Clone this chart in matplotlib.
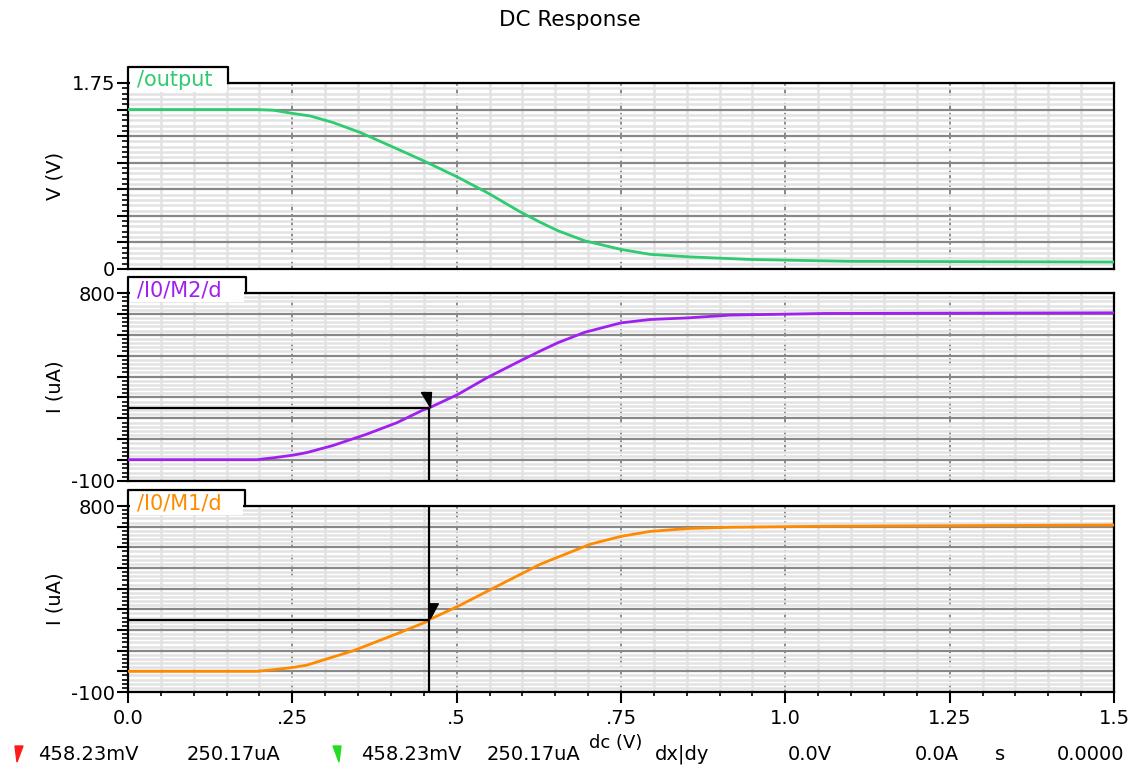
"""DC Response: inverter output voltage and drain currents of M2 / M1 vs dc sweep."""

import matplotlib
matplotlib.use("Agg")
import matplotlib.pyplot as plt
from matplotlib.ticker import MultipleLocator, FuncFormatter
from matplotlib.patches import Rectangle, Polygon
from matplotlib.lines import Line2D

W, H = 1139, 769
plt.rcParams["font.family"] = ["DejaVu Sans"]

dc_out = [0.0, 0.196, 0.221, 0.2515, 0.277, 0.312, 0.353, 0.404, 0.449, 0.5016,
          0.546, 0.571, 0.596, 0.627, 0.654, 0.695, 0.750, 0.794, 0.852, 0.945,
          1.096, 1.5]
v_out = [1.50, 1.50, 1.494, 1.463, 1.44, 1.378, 1.285, 1.145, 1.02, 0.864,
         0.72, 0.63, 0.54, 0.44, 0.36, 0.265, 0.184, 0.138, 0.115, 0.09,
         0.072, 0.066]

dc_m2 = [0.0, 0.196, 0.221, 0.2515, 0.272, 0.312, 0.363, 0.409, 0.449, 0.45823,
         0.5016, 0.546, 0.596, 0.627, 0.654, 0.695, 0.750, 0.794, 0.852, 0.916,
         1.061, 1.5]
i_m2 = [2, 2, 11, 24, 36, 70, 124, 179, 240, 250.17,
        314, 394, 474, 522, 562, 612, 657, 673, 681, 694,
        702, 705]

dc_m1 = [0.0, 0.196, 0.221, 0.2515, 0.272, 0.343, 0.414, 0.454, 0.45823, 0.5016,
         0.561, 0.627, 0.703, 0.750, 0.794, 0.852, 0.916, 1.061, 1.5]
i_m1 = [0, 0, 8, 19, 30, 100, 188, 240, 250.17, 314,
        411, 518, 615, 653, 677, 691, 697, 702, 708]

cursor_x = 0.45823     # V
cursor_y = 250.17      # uA

x_ticks = [0.0, 0.25, 0.5, 0.75, 1.0, 1.25, 1.5]
x_tick_labels = ["0.0", ".25", ".5", ".75", "1.0", "1.25", "1.5"]

status_items = ["458.23mV", "250.17uA", "458.23mV", "250.17uA",
                "0.0V", "0.0A", "s", "0.0000"]

PANELS = [
    {"x": dc_out, "y": v_out, "label": "/output", "color": "#2ecb70",
     "ylabel": "V (V)", "ylim": (0, 1.75), "ylims_txt": ("0", "1.75"),
     "major": 0.25, "minor": 0.05, "px": (83, 269), "tab_w": 100},
    {"x": dc_m2, "y": i_m2, "label": "/I0/M2/d", "color": "#a020f0",
     "ylabel": "I (uA)", "ylim": (-100, 800), "ylims_txt": ("-100", "800"),
     "major": 100, "minor": 20, "px": (293, 481), "tab_w": 118},
    {"x": dc_m1, "y": i_m1, "label": "/I0/M1/d", "color": "#ff8a00",
     "ylabel": "I (uA)", "ylim": (-100, 800), "ylims_txt": ("-100", "800"),
     "major": 100, "minor": 20, "px": (506, 692), "tab_w": 117},
]

LEFT_PX, RIGHT_PX = 128, 1114
FS = 14

fig = plt.figure(figsize=(W / 100, H / 100), dpi=100)
fig.text(0.5, 1 - 20 / H, "DC Response", ha="center", va="center", fontsize=15.5)

axes = []
for i, p in enumerate(PANELS):
    top, bot = p["px"]
    ax = fig.add_axes([LEFT_PX / W, 1 - bot / H, (RIGHT_PX - LEFT_PX) / W, (bot - top) / H])
    axes.append(ax)
    ax.plot(p["x"], p["y"], color=p["color"], linewidth=2.0, zorder=3)
    ax.set_xlim(0, 1.5)
    ax.set_ylim(*p["ylim"])

    # grid
    ax.xaxis.set_major_locator(MultipleLocator(0.25))
    ax.xaxis.set_minor_locator(MultipleLocator(0.05))
    ax.yaxis.set_major_locator(MultipleLocator(p["major"]))
    ax.yaxis.set_minor_locator(MultipleLocator(p["minor"]))
    ax.set_axisbelow(True)
    ax.grid(which="minor", axis="both", color="#e2e2e2", linewidth=1.8)
    ax.grid(which="major", axis="y", color="#888888", linewidth=1.6)
    ax.grid(which="major", axis="x", color="#808080", linewidth=1.3,
            linestyle=(0, (4, 1.5, 1, 1.5)))

    lo, hi = p["ylim"]
    lo_txt, hi_txt = p["ylims_txt"]
    ax.yaxis.set_major_formatter(FuncFormatter(
        lambda v, pos, lo=lo, hi=hi, a=lo_txt, b=hi_txt:
        a if abs(v - lo) < 1e-9 else (b if abs(v - hi) < 1e-9 else "")))
    ax.tick_params(axis="y", which="major", length=8, width=1.5, direction="out",
                   labelsize=FS, pad=1)
    ax.tick_params(axis="y", which="minor", length=4, width=1.2, direction="out")
    if i < 2:
        ax.tick_params(axis="x", which="both", length=0, labelbottom=False)
    else:
        ax.set_xticks(x_ticks)
        ax.set_xticklabels(x_tick_labels)
        ax.tick_params(axis="x", which="major", length=8, width=1.5, labelsize=FS, pad=4)
        ax.tick_params(axis="x", which="minor", length=3, width=1.2)

    for s in ax.spines.values():
        s.set_linewidth(1.6)
        s.set_color("black")

    ax.set_ylabel(p["ylabel"], fontsize=FS)
    ax.yaxis.set_label_coords(-0.064, 0.5)

    # label tab above the panel
    bb = ax.get_position()
    x0, x1 = bb.x0, bb.x0 + p["tab_w"] / W
    y_top = bb.y1
    fig.add_artist(Rectangle((x0 + 1.5 / W, y_top - 9 / H), x1 - x0 - 3 / W, 25 / H,
                             transform=fig.transFigure, facecolor="white",
                             edgecolor="none", zorder=5))
    fig.add_artist(Line2D([x0, x0, x1, x1], [y_top, y_top + 16 / H, y_top + 16 / H, y_top],
                          transform=fig.transFigure, color="black", linewidth=1.6, zorder=6))
    fig.text(x0 + 9 / W, y_top + 3 / H, p["label"], color=p["color"], fontsize=15,
             ha="left", va="center", zorder=7)

# ── cursor ──────────────────────────────────────────────────────────────────
ax2, ax3 = axes[1], axes[2]
for ax in (ax2, ax3):
    ax.hlines(cursor_y, 0, cursor_x, color="black", linewidth=1.6, zorder=4)
ax2.vlines(cursor_x, -100, cursor_y, color="black", linewidth=1.6, zorder=4)
ax3.axvline(cursor_x, color="black", linewidth=1.6, zorder=4)

flag_a = [(-8, 16), (2, 16), (1, 1), (-8, 16)]
flag_b = [(0, 17), (9, 17), (1, 2), (0, 17)]
ax2.plot(cursor_x, cursor_y, marker=flag_a, markersize=23, color="black",
         linestyle="none", zorder=5)
ax3.plot(cursor_x, cursor_y, marker=flag_b, markersize=24, color="black",
         linestyle="none", zorder=5)

# ── status bar ──────────────────────────────────────────────────────────────
def px(x, y):
    return (x / W, 1 - y / H)

fig.add_artist(Polygon([px(15, 746), px(23, 746), px(17, 762)], closed=True,
                       transform=fig.transFigure, color="#ff1a1a"))
fig.add_artist(Polygon([px(333, 746), px(341, 746), px(339, 762)], closed=True,
                       transform=fig.transFigure, color="#22dd22"))

status_x = [38, 187, 361, 487, 788, 915, 995, 1057]
for sx, txt in zip(status_x, status_items):
    fig.text(sx / W, 1 - 754 / H, txt, ha="left", va="center", fontsize=FS)
fig.text(589 / W, 1 - 743 / H, "dc (V)", ha="left", va="center", fontsize=13)
fig.text(655 / W, 1 - 754 / H, "dx|dy", ha="left", va="center", fontsize=FS)

fig.savefig("out.png", dpi=100)
